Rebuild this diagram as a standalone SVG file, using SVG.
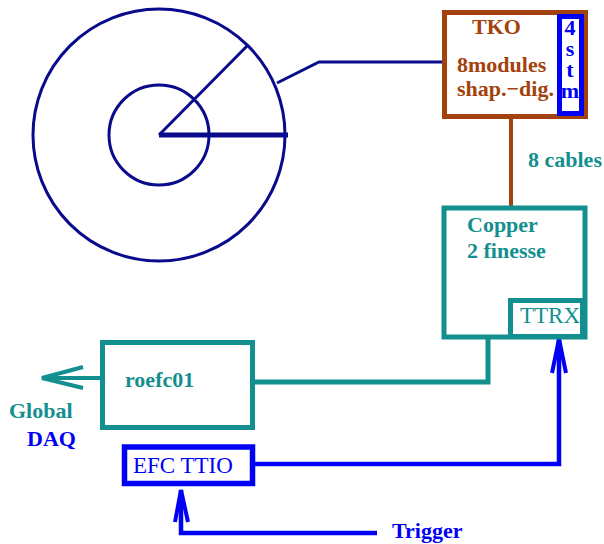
<svg xmlns="http://www.w3.org/2000/svg" width="604" height="544" viewBox="0 0 604 544">
<style>
.t{font-family:"Liberation Serif","Times New Roman",serif;font-size:22px;font-weight:bold}
.r{font-family:"Liberation Serif","Times New Roman",serif;font-size:23px}
.navy{stroke:#0a0a8c;fill:none}
.brown{stroke:#a3420c;fill:none}
.teal{stroke:#138f8f;fill:none}
.blue{stroke:#0000f5;fill:none}
.tb{fill:#a3420c}
.tt{fill:#138f8f}
.tl{fill:#0000f5}
.v{writing-mode:vertical-rl;text-orientation:upright}
</style>
<rect width="604" height="544" fill="#fff"/>
<g id="detector">
<circle cx="159" cy="135" r="126" class="navy" stroke-width="3"/>
<circle cx="159" cy="135" r="50" class="navy" stroke-width="3"/>
<line x1="159" y1="135" x2="288" y2="135" class="navy" stroke-width="5"/>
<line x1="159" y1="135" x2="248" y2="45" class="navy" stroke-width="3"/>
</g>
<g id="connectors">
<polyline points="277,83 319,62 444,62" class="navy" stroke-width="3"/>
<line x1="511" y1="118" x2="511" y2="207" class="brown" stroke-width="4"/>
<polyline points="488,338 488,382 253,382" class="teal" stroke-width="5"/>
<line x1="102" y1="378" x2="42" y2="378" class="teal" stroke-width="4"/>
<polyline points="83,367 42,378 83,388" class="teal" stroke-width="4"/>
<polyline points="253,464 559,464 559,339" class="blue" stroke-width="4.5"/>
<polyline points="552,373 559,339 566,373" class="blue" stroke-width="4"/>
<polyline points="377,533 181,533 181,490" class="blue" stroke-width="4.5"/>
<polyline points="175,522 181,490 188,522" class="blue" stroke-width="4"/>
</g>
<g id="tko">
<rect x="444.5" y="12.5" width="141" height="104" class="brown" stroke-width="5"/>
<text x="472" y="34" class="t tb" font-size="21">TKO</text>
<text x="457" y="72" class="t tb">8modules</text>
<text x="457" y="96" class="t tb">shap.−dig.</text>
</g>
<g id="stm">
<rect x="559.5" y="16.5" width="22" height="97" class="blue" stroke-width="5"/>
<text x="570" y="15" class="t tl v" font-size="18" letter-spacing="-4">4stm</text>
</g>
<text x="528" y="167" class="t tt">8 cables</text>
<g id="copper">
<rect x="444" y="208" width="141" height="129" class="teal" stroke-width="5"/>
<text x="467" y="232" class="t tt">Copper</text>
<text x="467" y="258" class="t tt">2 finesse</text>
</g>
<g id="ttrx">
<rect x="510.5" y="300.5" width="72" height="36" class="teal" stroke-width="5"/>
<text x="520" y="323" class="r tt">TTRX</text>
</g>
<g id="roefc01">
<rect x="102.5" y="342.5" width="150" height="85" class="teal" stroke-width="5"/>
<text x="125" y="387" class="t tt">roefc01</text>
</g>
<g id="globaldaq">
<text x="9" y="418" class="t tt">Global</text>
<text x="27" y="446" class="t tl">DAQ</text>
</g>
<g id="efcttio">
<rect x="124.5" y="447" width="128" height="36.5" class="blue" stroke-width="5.5"/>
<text x="133" y="473" class="r tl" font-size="24">EFC TTIO</text>
</g>
<text x="392" y="538" class="t tl">Trigger</text>
</svg>
